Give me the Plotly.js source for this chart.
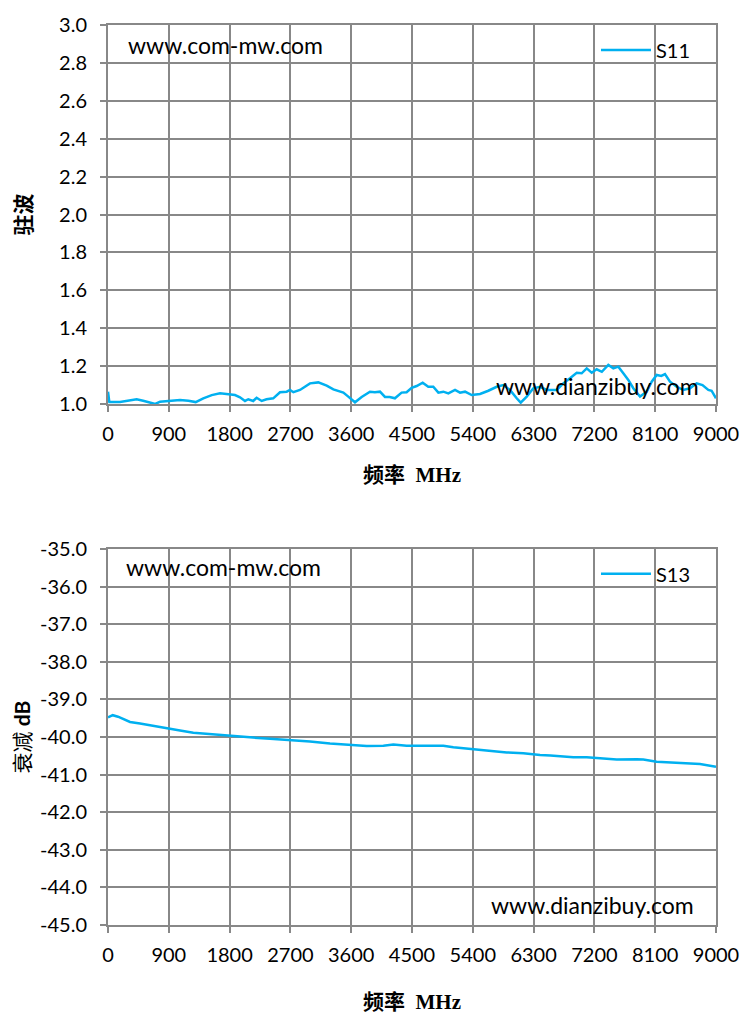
<!DOCTYPE html>
<html>
<head>
<meta charset="utf-8">
<script src="https://cdn.plot.ly/plotly-3.0.1.min.js"></script>
<style>html,body{margin:0;padding:0;background:#fff;}#chart{width:749px;height:1027px;}</style>
</head>
<body>
<div id="chart"></div>
<script>
// ---- data ----
const s11Freq = [0, 20, 178, 276, 424, 520, 622, 700, 770, 918, 1066, 1190, 1298, 1411, 1535, 1658, 1730, 1806, 1880, 1954, 2028, 2077, 2150, 2200, 2275, 2347, 2446, 2546, 2645, 2694, 2744, 2842, 2916, 2990, 3113, 3237, 3336, 3484, 3557, 3656, 3755, 3878, 3950, 4026, 4100, 4170, 4247, 4346, 4420, 4495, 4569, 4658, 4741, 4815, 4890, 4964, 5038, 5137, 5211, 5285, 5384, 5507, 5630, 5754, 5852, 5951, 6050, 6109, 6198, 6296, 6395, 6494, 6642, 6740, 6839, 6938, 7012, 7086, 7160, 7234, 7310, 7406, 7480, 7554, 7628, 7702, 7776, 7875, 7974, 8048, 8122, 8190, 8245, 8319, 8418, 8516, 8615, 8714, 8800, 8886, 8935, 9000];
const s11Vals = [1.065, 1.01, 1.01, 1.017, 1.025, 1.017, 1.005, 1.0, 1.012, 1.016, 1.021, 1.017, 1.01, 1.03, 1.047, 1.056, 1.053, 1.053, 1.047, 1.035, 1.016, 1.025, 1.016, 1.033, 1.016, 1.025, 1.03, 1.062, 1.065, 1.074, 1.062, 1.074, 1.091, 1.109, 1.114, 1.097, 1.077, 1.06, 1.039, 1.009, 1.037, 1.065, 1.062, 1.065, 1.037, 1.037, 1.03, 1.06, 1.062, 1.085, 1.095, 1.112, 1.091, 1.091, 1.06, 1.065, 1.056, 1.074, 1.06, 1.065, 1.047, 1.053, 1.07, 1.091, 1.1, 1.074, 1.03, 1.007, 1.039, 1.083, 1.091, 1.074, 1.074, 1.109, 1.136, 1.165, 1.162, 1.188, 1.165, 1.183, 1.17, 1.206, 1.188, 1.197, 1.162, 1.127, 1.083, 1.039, 1.065, 1.118, 1.153, 1.148, 1.158, 1.118, 1.091, 1.074, 1.083, 1.109, 1.1, 1.074, 1.07, 1.03];

const s13Freq = [0, 70, 148, 227, 326, 474, 622, 770, 918, 1066, 1263, 1510, 1806, 2102, 2398, 2694, 2990, 3286, 3582, 3829, 4076, 4224, 4421, 4717, 4964, 5112, 5408, 5655, 5902, 6148, 6395, 6550, 6740, 6888, 7086, 7283, 7530, 7826, 7924, 8122, 8319, 8566, 8763, 9000];
const s13Vals = [-39.48, -39.42, -39.46, -39.53, -39.60, -39.64, -39.69, -39.73, -39.80, -39.83, -39.89, -39.93, -39.97, -40.01, -40.05, -40.08, -40.12, -40.17, -40.21, -40.24, -40.23, -40.20, -40.23, -40.24, -40.23, -40.27, -40.32, -40.36, -40.41, -40.43, -40.48, -40.49, -40.52, -40.54, -40.54, -40.57, -40.60, -40.59, -40.60, -40.66, -40.68, -40.70, -40.72, -40.79];

const xTicks = [0, 900, 1800, 2700, 3600, 4500, 5400, 6300, 7200, 8100, 9000];
const s13TickVals = [-45, -44, -43, -42, -41, -40, -39, -38, -37, -36, -35];
const s13TickText = ['-45.0', '-44.0', '-43.0', '-42.0', '-41.0', '-40.0', '-39.0', '-38.0', '-37.0', '-36.0', '-35.0'];
const s11Name = 'S11', s13Name = 'S13';
const topYTitle = '驻波';
const bottomYTitle = '衰减 <b><span style="font-family:Lato, sans-serif">dB</span></b>';
const xTitle = '频率\u00a0\u00a0MHz';
const site1 = 'www.com-mw.com', site2 = 'www.dianzibuy.com';

// ---- style ----
const BLUE = '#00B0F0', GRID = '#888888';
const SANS = 'Lato, "Open Sans", sans-serif';
const SERIF = '"Liberation Serif", "Noto Sans CJK SC", serif';
const tickFont = {family: SANS, size: 20, color: '#000'};
const titleFont = {family: SERIF, size: 21, color: '#000'};

function xAxis(anchor, standoff) {
  return {
    anchor: anchor, domain: [0, 1], range: [0, 9000], tickvals: xTicks,
    showgrid: true, gridcolor: GRID, gridwidth: 2,
    showline: true, linecolor: GRID, linewidth: 2, mirror: true,
    ticks: 'outside', ticklen: 6, tickwidth: 2, tickcolor: GRID,
    ticklabelstandoff: 5,
    zeroline: false, tickfont: tickFont,
    title: {text: '<b>' + xTitle + '</b>', font: titleFont, standoff: standoff}
  };
}
function yAxis(anchor, domain, range, extra, title, standoff) {
  return Object.assign({
    anchor: anchor, domain: domain, range: range,
    showgrid: true, gridcolor: GRID, gridwidth: 2,
    showline: true, linecolor: GRID, linewidth: 2, mirror: true,
    ticks: 'outside', ticklen: 6, tickwidth: 2, tickcolor: GRID,
    ticklabelstandoff: 9,
    zeroline: false, tickfont: tickFont,
    title: {text: title, font: titleFont, standoff: standoff}
  }, extra);
}

const traces = [
  {x: s11Freq, y: s11Vals, type: 'scatter', mode: 'lines', name: s11Name,
   line: {color: BLUE, width: 2.5}, xaxis: 'x', yaxis: 'y', legend: 'legend'},
  {x: s13Freq, y: s13Vals, type: 'scatter', mode: 'lines', name: s13Name,
   line: {color: BLUE, width: 2.5}, xaxis: 'x2', yaxis: 'y2', legend: 'legend2'}
];

const legendBase = {
  xref: 'paper', yref: 'paper', xanchor: 'left', yanchor: 'top',
  bgcolor: 'rgba(0,0,0,0)', borderwidth: 0, itemwidth: 50,
  font: {family: SANS, size: 20, color: '#000'}
};

const layout = {
  width: 749, height: 1027,
  margin: {l: 108, r: 33, t: 25, b: 102},
  paper_bgcolor: '#fff', plot_bgcolor: '#fff',
  showlegend: true,
  xaxis: xAxis('y', 23),
  yaxis: yAxis('x', [0.5789, 1], [1, 3], {dtick: 0.2, tick0: 1, tickformat: '.1f'}, '<b>' + topYTitle + '</b>', 22),
  xaxis2: xAxis('y2', 29),
  yaxis2: yAxis('x2', [0, 0.4178], [-45, -35], {tickvals: s13TickVals, ticktext: s13TickText}, bottomYTitle, 4),
  legend: Object.assign({}, legendBase, {x: 0.8026, y: 0.994}),
  legend2: Object.assign({}, legendBase, {x: 0.8026, y: 0.412}),
  shapes: [
    {type: 'rect', xref: 'paper', yref: 'paper', x0: 0.7993, x1: 0.9655, y0: 0.9467, y1: 0.9922,
     fillcolor: '#ffffff', line: {width: 0}, layer: 'between'},
    {type: 'rect', xref: 'paper', yref: 'paper', x0: 0.8026, x1: 0.9688, y0: 0.3644, y1: 0.4133,
     fillcolor: '#ffffff', line: {width: 0}, layer: 'between'}
  ],
  annotations: [
    {text: site1, xref: 'paper', yref: 'paper', x: 0.0296, y: 0.9778, xanchor: 'left', yanchor: 'middle', showarrow: false,
     font: {family: SANS, size: 23, color: '#000'}},
    {text: site2, xref: 'paper', yref: 'paper', x: 0.6349, y: 0.5989, xanchor: 'left', yanchor: 'middle', showarrow: false,
     font: {family: SANS, size: 23, color: '#000'}},
    {text: site1, xref: 'paper', yref: 'paper', x: 0.0263, y: 0.3978, xanchor: 'left', yanchor: 'middle', showarrow: false,
     font: {family: SANS, size: 23, color: '#000'}},
    {text: site2, xref: 'paper', yref: 'paper', x: 0.6266, y: 0.0222, xanchor: 'left', yanchor: 'middle', showarrow: false,
     font: {family: SANS, size: 23, color: '#000'}}
  ]
};

Plotly.newPlot('chart', traces, layout, {staticPlot: true, displayModeBar: false});
</script>
</body>
</html>
